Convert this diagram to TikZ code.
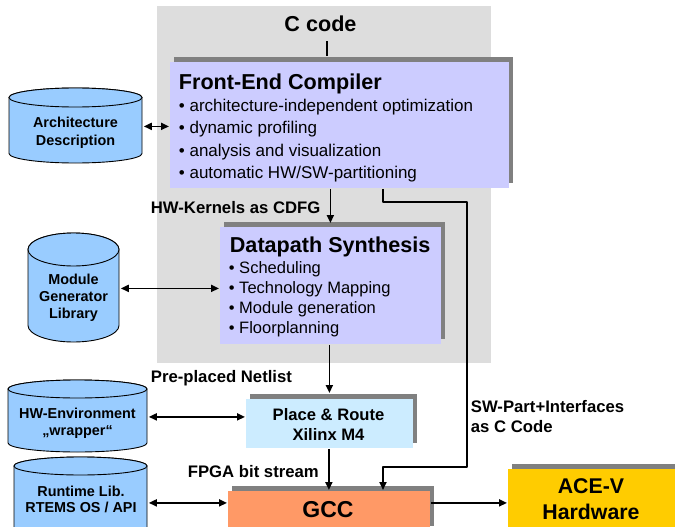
\documentclass[tikz,border=0pt]{standalone}
\usepackage{fontspec}
\setmainfont{Liberation Sans}
\usetikzlibrary{arrows.meta,shadows}
\definecolor{bggray}{HTML}{DDDDDD}
\definecolor{shgray}{HTML}{808080}
\definecolor{fefill}{HTML}{CCCCFF}
\definecolor{cylfill}{HTML}{99CCFF}
\definecolor{prfill}{HTML}{CCECFF}
\definecolor{gccfill}{HTML}{FF9966}
\definecolor{acefill}{HTML}{FFCC00}
% cylinder: x1, ytop, x2, ybottom, ry
\newcommand{\mycyl}[5]{%
  \pgfmathsetmacro{\cylrx}{(#3-#1)/2}%
  \pgfmathsetmacro{\cylcx}{(#1+#3)/2}%
  \pgfmathsetmacro{\cylyt}{#2+#5}%
  \pgfmathsetmacro{\cylyb}{#4-#5}%
  \filldraw[cylshape] (#1,\cylyt) -- (#1,\cylyb)
     arc[start angle=180,end angle=360,x radius=\cylrx pt,y radius=#5pt]
     -- (#3,\cylyt)
     arc[start angle=0,end angle=180,x radius=\cylrx pt,y radius=#5pt] -- cycle;
  \draw[cylshape] (\cylcx,\cylyt) ellipse[x radius=\cylrx pt,y radius=#5pt];
}
\begin{document}
\begin{tikzpicture}[x=1pt,y=-1pt,line width=1.8pt,
  cylshape/.style={fill=cylfill,draw=black,line width=0.9pt},
  shbox/.style={rectangle,inner sep=0pt,anchor=north west,
     general shadow={fill=shgray,shadow xshift=4pt,shadow yshift=5pt}},
  area/.style={rectangle,inner sep=0pt,anchor=north west},
  ttl/.style={inner sep=0pt,font=\bfseries\fontsize{21.6}{26}\selectfont},
  lbl/.style={inner sep=0pt,anchor=base west,font=\bfseries\fontsize{16.7}{20}\selectfont},
  cyltxt/.style={inner sep=0pt,anchor=base,align=center,font=\bfseries\fontsize{14.4}{#1}\selectfont},
  arr/.style={-{Triangle[length=8pt,width=7pt]}},
  darr/.style={{Triangle[length=8pt,width=7pt]}-{Triangle[length=8pt,width=7pt]}},
]
\useasboundingbox (0,0) rectangle (675,527);
% grey background region
\fill[bggray] (157,6) rectangle (491,363);

% boxes
\node[shbox,fill=fefill,minimum width=339pt,minimum height=126pt] (fe) at (169,61) {};
\node[shbox,fill=fefill,minimum width=221pt,minimum height=117pt] (dp) at (219,226) {};
\node[shbox,fill=prfill,minimum width=167pt,minimum height=49pt] (pr) at (245,398) {};
\node[shbox,fill=gccfill,minimum width=202pt,minimum height=40pt] (gcc) at (227,490) {};
\node[shbox,fill=acefill,minimum width=168pt,minimum height=62pt] (ace) at (507,468) {};

% cylinders
\mycyl{9}{88}{142}{163}{9.5}
\node[area,minimum width=133pt,minimum height=75pt] (arch) at (9,88) {};
\mycyl{28}{233}{119}{342}{16.5}
\node[area,minimum width=91pt,minimum height=109pt] (mod) at (28,233) {};
\mycyl{8}{380}{147}{452}{9}
\node[area,minimum width=139pt,minimum height=72pt] (hwenv) at (8,380) {};
\mycyl{14}{457}{147}{547}{9}
\node[area,minimum width=133pt,minimum height=90pt] (rt) at (14,457) {};

% texts (multi-line nodes: base anchor = baseline of last line)
\node[ttl,anchor=base] (cc) at (320.5,32) {C code};
\node[ttl,anchor=base west] (fetitle) at (178,89) {Front-End Compiler};
\node[inner sep=0pt,anchor=base west,align=left,font=\fontsize{17}{22.5}\selectfont] (felist) at (178,178.5)
  {\textbullet\ architecture-independent optimization\\
   \textbullet\ dynamic profiling\\
   \textbullet\ analysis and visualization\\
   \textbullet\ automatic HW/SW-partitioning};
\node[ttl,anchor=base west] (dptitle) at (229,252) {Datapath Synthesis};
\node[inner sep=0pt,anchor=base west,align=left,font=\fontsize{16.5}{20.2}\selectfont] (dplist) at (228,333.6)
  {\textbullet\ Scheduling\\
   \textbullet\ Technology Mapping\\
   \textbullet\ Module generation\\
   \textbullet\ Floorplanning};
\node[inner sep=0pt,anchor=base,align=center,font=\bfseries\fontsize{16.6}{20}\selectfont] (prtxt) at (328.5,440) {Place \& Route\\Xilinx M4};
\node[inner sep=0pt,anchor=base,font=\bfseries\fontsize{23}{27}\selectfont] (gcctxt) at (328,517) {GCC};
\node[inner sep=0pt,anchor=base,align=center,font=\bfseries\fontsize{21.3}{26}\selectfont] (acetxt) at (591,519) {ACE-V\\Hardware};

\node[cyltxt=18] (archtxt) at (75.5,145) {Architecture\\Description};
\node[cyltxt=17] (modtxt) at (73.5,318) {Module\\Generator\\Library};
\node[cyltxt=17.5] (hwtxt) at (77.5,435.5) {HW-Environment\\„wrapper“};
\node[cyltxt=16.5] (rttxt) at (81,512.5) {Runtime Lib.\\RTEMS OS / API};

\node[lbl] (l1) at (150,213) {HW-Kernels as CDFG};
\node[lbl] (l2) at (150,382) {Pre-placed Netlist};
\node[lbl] (l3) at (187,477) {FPGA bit stream};
\node[lbl,align=left] (l4) at (470,432) {SW-Part+Interfaces\\as C Code};

% connectors
\draw[shorten >=5pt] ([xshift=6.5pt,yshift=-8pt]cc.south) -- ([xshift=6.5pt]cc.south |- fe.north);
\draw[arr,shorten >=3pt] (dp.north |- fe.south) -- (dp.north);
\draw[arr,shorten >=5pt] (pr.north |- dp.south) -- (pr.north);
\draw[arr] (gcc.north |- pr.south) -- (gcc.north);
\coordinate (sw1) at (383,202);
\coordinate (sw2) at (467,202);
\coordinate (sw3) at (467,467);
\coordinate (sw4) at (383,467);
\draw[arr,line join=round] (sw1 |- fe.south) -- (sw1) -- (sw2) -- (sw3) -- (sw4) -- (sw4 |- gcc.north);
\draw[darr] (arch.east) -- (fe.west |- arch.east);
\draw[darr] (mod.east) -- (dp.west |- mod.east);
\draw[darr] (hwenv.east) -- (pr.west |- hwenv.east);
\draw[darr] (rt.east) -- (gcc.west |- rt.east);
\draw[arr] (gcc.east |- rt.east) -- (ace.west |- rt.east);
\end{tikzpicture}
\end{document}
